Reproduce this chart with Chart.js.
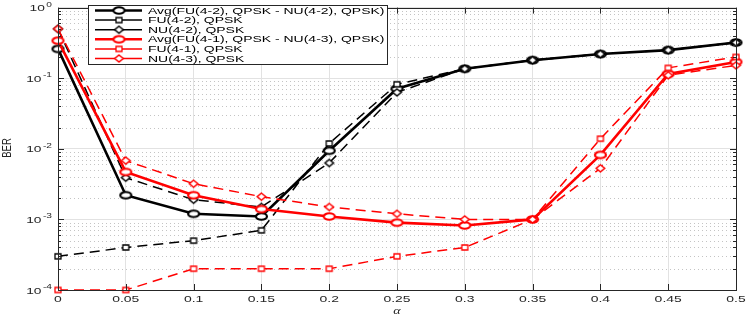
<!DOCTYPE html>
<html>
<head>
<meta charset="utf-8">
<script src="https://cdn.jsdelivr.net/npm/chart.js@4.4.1/dist/chart.umd.min.js"></script>
<style>
  html, body { margin: 0; padding: 0; background: #fff; }
  #berChart { display: block; }
</style>
</head>
<body>
<canvas id="berChart" width="747" height="316"></canvas>
<script>
const alpha = [0, 0.05, 0.1, 0.15, 0.2, 0.25, 0.3, 0.35, 0.4, 0.45, 0.5];

const avgFU42 = [0.26, 0.0022, 0.0012, 0.0011, 0.0094, 0.071, 0.136, 0.18, 0.22, 0.25, 0.32];
const fu42    = [0.0003, 0.0004, 0.0005, 0.0007, 0.0119, 0.082, 0.136, 0.18, 0.22, 0.25, 0.32];
const nu42    = [0.5, 0.0039, 0.0019, 0.0015, 0.0063, 0.063, 0.136, 0.18, 0.22, 0.25, 0.32];

const avgFU41 = [0.34, 0.0047, 0.0022, 0.0014, 0.0011, 0.0009, 0.00082, 0.001, 0.0082, 0.115, 0.17];
const fu41    = [0.0001, 0.0001, 0.0002, 0.0002, 0.0002, 0.0003, 0.0004, 0.001, 0.0139, 0.14, 0.2];
const nu43    = [0.5, 0.0068, 0.0032, 0.0021, 0.0015, 0.0012, 0.001, 0.001, 0.0053, 0.11, 0.152];

const seriesNames = [
    'Avg(FU(4-2), QPSK - NU(4-2), QPSK)',
    'FU(4-2), QPSK',
    'NU(4-2), QPSK',
    'Avg(FU(4-1), QPSK - NU(4-3), QPSK)',
    'FU(4-1), QPSK',
    'NU(4-3), QPSK'
];
const xTicks = [0, 0.05, 0.1, 0.15, 0.2, 0.25, 0.3, 0.35, 0.4, 0.45, 0.5];
const xTickLabels = ['0', '0.05', '0.1', '0.15', '0.2', '0.25', '0.3', '0.35', '0.4', '0.45', '0.5'];
const yDecades = [-4, -3, -2, -1, 0];

const AXIS = '#262626';
const RED = '#ff0000';

// markers are stretched horizontally like the picture
function marker(shape, color, w, h, lw) {
    const c = document.createElement('canvas');
    const pad = Math.ceil(lw) + 1;
    c.width = Math.ceil(w + 2 * pad);
    c.height = Math.ceil(h + 2 * pad);
    const g = c.getContext('2d');
    const cx = c.width / 2, cy = c.height / 2;
    g.strokeStyle = color;
    g.fillStyle = '#fff';
    g.lineWidth = lw;
    g.beginPath();
    if (shape === 'circle') {
        g.ellipse(cx, cy, w / 2, h / 2, 0, 0, Math.PI * 2);
    } else if (shape === 'square') {
        g.rect(cx - w / 2, cy - h / 2, w, h);
    } else {
        g.moveTo(cx, cy - h / 2);
        g.lineTo(cx + w / 2, cy);
        g.lineTo(cx, cy + h / 2);
        g.lineTo(cx - w / 2, cy);
        g.closePath();
    }
    g.fill();
    g.stroke();
    return c;
}

const mk = {
    circK: marker('circle', '#000', 11, 6.5, 2.2),
    sqK: marker('square', '#000', 6, 5, 1.3),
    diaK: marker('diamond', '#000', 8.5, 7, 1.5),
    circR: marker('circle', RED, 11, 6.5, 2.2),
    sqR: marker('square', RED, 6, 5, 1.3),
    diaR: marker('diamond', RED, 8.5, 7, 1.5)
};

function pts(arr) {
    return arr.map((v, i) => ({x: alpha[i], y: v}));
}

function series(i, arr, color, dashed, style) {
    return {
        label: seriesNames[i],
        data: pts(arr),
        borderColor: color,
        borderWidth: dashed ? 1.5 : 2.6,
        borderDash: dashed ? [10, 6] : [],
        borderDashOffset: 0,
        pointStyle: style,
        pointRadius: 5,
        pointHoverRadius: 5,
        tension: 0,
        fill: false,
        clip: false,
        order: 6 - i
    };
}

const datasets = [
    series(0, avgFU42, '#000', false, mk.circK),
    series(1, fu42, '#000', true, mk.sqK),
    series(2, nu42, '#000', true, mk.diaK),
    series(3, avgFU41, RED, false, mk.circR),
    series(4, fu41, RED, true, mk.sqR),
    series(5, nu43, RED, true, mk.diaR)
];

function stretchText(ctx, text, x, y, sx, align) {
    const w = ctx.measureText(text).width * sx;
    let left = x;
    if (align === 'center') left = x - w / 2;
    else if (align === 'right') left = x - w;
    ctx.save();
    ctx.translate(left, y);
    ctx.scale(sx, 1);
    ctx.textAlign = 'left';
    ctx.fillText(text, 0, 0);
    ctx.restore();
    return w;
}

const matlabLook = {
    id: 'matlabLook',
    beforeDatasetsDraw(chart) {
        const {ctx, chartArea: a, scales} = chart;
        const y = scales.y;
        ctx.save();
        // dotted minor grid
        ctx.strokeStyle = '#c4c4c4';
        ctx.lineWidth = 1;
        ctx.setLineDash([1, 3]);
        for (let d = -4; d < 0; d++) {
            for (let k = 2; k <= 9; k++) {
                const py = Math.round(y.getPixelForValue(k * Math.pow(10, d))) + 0.5;
                ctx.beginPath();
                ctx.moveTo(a.left, py);
                ctx.lineTo(a.right, py);
                ctx.stroke();
            }
        }
        ctx.setLineDash([]);
        ctx.restore();
    },
    afterDraw(chart) {
        const {ctx, chartArea: a, scales} = chart;
        const x = scales.x, y = scales.y;
        ctx.save();
        ctx.setLineDash([]);
        // box
        ctx.strokeStyle = AXIS;
        ctx.lineWidth = 1;
        ctx.strokeRect(Math.round(a.left) + 0.5, Math.round(a.top) + 0.5,
            Math.round(a.right - a.left), Math.round(a.bottom - a.top));
        // inward ticks
        ctx.beginPath();
        xTicks.forEach(v => {
            const px = Math.round(x.getPixelForValue(v)) + 0.5;
            ctx.moveTo(px, a.bottom); ctx.lineTo(px, a.bottom - 6);
            ctx.moveTo(px, a.top); ctx.lineTo(px, a.top + 6);
        });
        for (let d = -4; d <= 0; d++) {
            for (let k = 1; k <= 9; k++) {
                if (d === 0 && k > 1) break;
                const py = Math.round(y.getPixelForValue(k * Math.pow(10, d))) + 0.5;
                const len = k === 1 ? 6 : 3;
                ctx.moveTo(a.left, py); ctx.lineTo(a.left + len, py);
                ctx.moveTo(a.right, py); ctx.lineTo(a.right - len, py);
            }
        }
        ctx.stroke();

        // tick labels
        ctx.fillStyle = AXIS;
        ctx.textBaseline = 'middle';
        ctx.font = '9px "Liberation Sans", Arial, sans-serif';
        xTicks.forEach((v, i) => {
            stretchText(ctx, xTickLabels[i], x.getPixelForValue(v), a.bottom + 10, 1.55, 'center');
        });
        yDecades.forEach(d => {
            const py = y.getPixelForValue(Math.pow(10, d));
            const exp = d === 0 ? '0' : '-' + Math.abs(d);
            ctx.font = '7px "Liberation Sans", Arial, sans-serif';
            const ew = stretchText(ctx, exp, 52, py - 3, 1.45, 'right');
            ctx.font = '9.5px "Liberation Sans", Arial, sans-serif';
            stretchText(ctx, '10', 52 - ew - 1.5, py + 1, 1.45, 'right');
        });

        // axis titles
        ctx.font = 'italic 10px "Liberation Serif", serif';
        stretchText(ctx, '\u03b1', (a.left + a.right) / 2, 311, 1.4, 'center');
        ctx.save();
        ctx.translate(7, 148);
        ctx.rotate(-Math.PI / 2);
        ctx.font = '9.5px "Liberation Sans", Arial, sans-serif';
        ctx.textAlign = 'center';
        ctx.scale(1, 1.4);
        ctx.fillText('BER', 0, 0);
        ctx.restore();

        // legend
        const lx = 88, ly = 5, lw = 299, lh = 59;
        ctx.fillStyle = '#fff';
        ctx.fillRect(lx, ly, lw, lh);
        ctx.strokeStyle = AXIS;
        ctx.lineWidth = 1;
        ctx.strokeRect(lx + 0.5, ly + 0.5, lw, lh);
        chart.data.datasets.forEach((ds, i) => {
            const ry = 10.5 + i * 9.6;
            ctx.strokeStyle = ds.borderColor;
            ctx.lineWidth = ds.borderWidth;
            ctx.beginPath();
            ctx.moveTo(95, ry);
            ctx.lineTo(142, ry);
            ctx.stroke();
            const m = ds.pointStyle;
            ctx.drawImage(m, 119 - m.width / 2, ry - m.height / 2);
            ctx.fillStyle = '#000';
            ctx.font = '9.5px "Liberation Sans", Arial, sans-serif';
            ctx.textBaseline = 'middle';
            stretchText(ctx, ds.label, 148, ry + 0.5, 1.47, 'left');
        });
        ctx.restore();
    }
};

new Chart(document.getElementById('berChart').getContext('2d'), {
    type: 'line',
    data: { datasets: datasets },
    options: {
        responsive: false,
        animation: false,
        devicePixelRatio: 1,
        layout: { padding: { top: 5, right: 11, left: 0, bottom: 0 } },
        plugins: {
            legend: { display: false },
            tooltip: { enabled: false }
        },
        scales: {
            x: {
                type: 'linear',
                min: 0,
                max: 0.5,
                afterBuildTicks(s) { s.ticks = xTicks.map(v => ({value: v})); },
                afterFit(s) { s.height = 26; },
                ticks: { display: false },
                grid: { color: '#e2e2e2', drawTicks: false },
                border: { display: false }
            },
            y: {
                type: 'logarithmic',
                min: 1e-4,
                max: 1,
                afterBuildTicks(s) { s.ticks = yDecades.map(d => ({value: Math.pow(10, d)})); },
                afterFit(s) { s.width = 58; },
                ticks: { display: false },
                grid: { color: '#e2e2e2', drawTicks: false },
                border: { display: false }
            }
        }
    },
    plugins: [matlabLook]
});
</script>
</body>
</html>
